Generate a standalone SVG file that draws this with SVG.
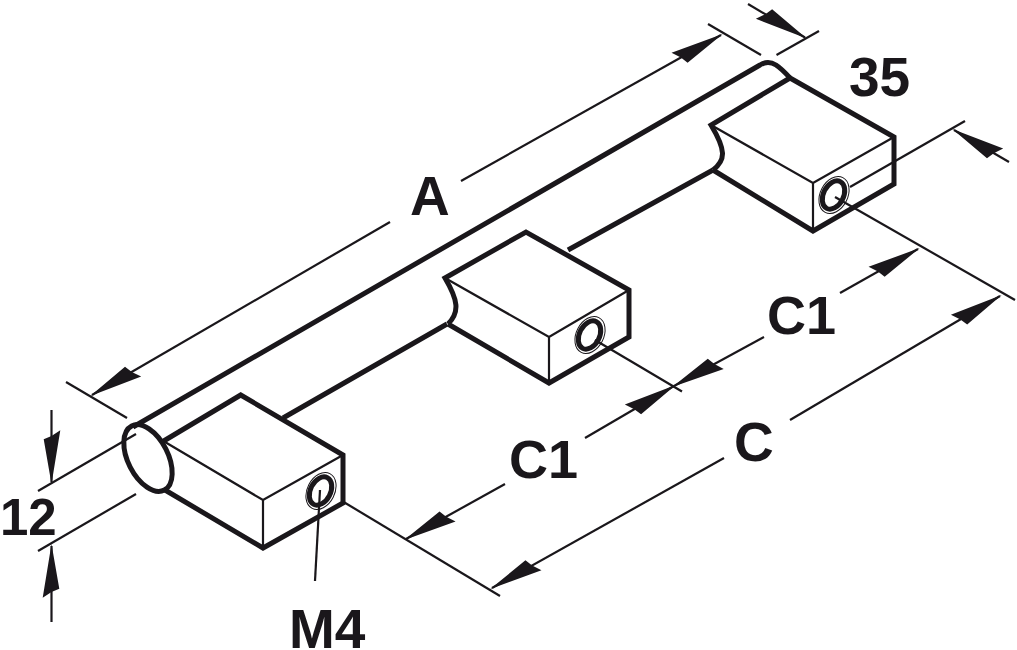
<svg xmlns="http://www.w3.org/2000/svg" width="1017" height="650" viewBox="0 0 1017 650">
<style>
.thick{fill:none;stroke:#1a171b;stroke-width:5;stroke-linejoin:miter}
.thin{fill:none;stroke:#1a171b;stroke-width:2.2}
.dim{fill:none;stroke:#1a171b;stroke-width:2.2}
.a1{marker-end:url(#ah1)}
.a2{marker-end:url(#ah2)}
.hair{fill:none;stroke:#1a171b;stroke-width:1}
.ring{fill:none;stroke:#1a171b;stroke-width:5}
text{font-family:"Liberation Sans",Arial,sans-serif;font-weight:700;font-size:55px;fill:#1a171b}
</style>
<defs>
<marker id="ah1" markerUnits="userSpaceOnUse" viewBox="-56 -12 62 24" refX="0" refY="0" markerWidth="62" markerHeight="24" orient="auto">
<path d="M2,0L-42.700,7.800L-46,0L-51.800,-8.800Z" fill="#1a171b"/>
</marker>
<marker id="ah2" markerUnits="userSpaceOnUse" viewBox="-56 -12 62 24" refX="0" refY="0" markerWidth="62" markerHeight="24" orient="auto">
<path d="M2,0L-42.700,-7.800L-46,0L-51.800,8.800Z" fill="#1a171b"/>
</marker>
</defs>
<g id="connectors">
<line class="dim a1" x1="390" y1="222" x2="92" y2="395"/>
<line class="dim a1" x1="461" y1="181" x2="721" y2="35"/>
<line class="dim" x1="66" y1="382" x2="127" y2="418"/>
<line class="dim" x1="708" y1="24" x2="761" y2="55"/>
<line class="dim a2" x1="748" y1="4" x2="805" y2="37.500"/>
<line class="dim" x1="776.500" y1="55" x2="819" y2="31"/>
<line class="dim" x1="850" y1="187" x2="965" y2="121"/>
<line class="dim a2" x1="1009" y1="162" x2="954" y2="130"/>
<line class="dim" x1="835" y1="197" x2="1015" y2="300"/>
<line class="dim a1" x1="790" y1="420" x2="1000" y2="296"/>
<line class="dim a1" x1="724" y1="458" x2="492" y2="588"/>
<line class="dim" x1="342" y1="501" x2="500" y2="596"/>
<line class="dim a1" x1="840" y1="293" x2="918" y2="249"/>
<line class="dim a1" x1="764" y1="337" x2="674" y2="386"/>
<line class="dim" x1="595" y1="340" x2="682" y2="391.500"/>
<line class="dim a1" x1="585" y1="438" x2="674" y2="386"/>
<line class="dim a1" x1="505" y1="484" x2="406" y2="539"/>
<line class="dim a1" x1="51.500" y1="410" x2="51.500" y2="482"/>
<line class="dim a1" x1="51.500" y1="622" x2="51.500" y2="546"/>
<line class="dim" x1="38" y1="491" x2="136" y2="434"/>
<line class="dim" x1="38" y1="551" x2="136" y2="494"/>
<line class="dim" x1="315" y1="581" x2="320" y2="490"/>
</g>
<g id="rod">
<path class="thick" d="M133,427L760,65Q768,60 776,65Q782,69 790,78"/>
<path class="thick" d="M283,418L447,324M568,250L713,170"/>
<ellipse class="thick" cx="148" cy="458" rx="20" ry="36" transform="rotate(-27 148 458)"/>
</g>
<g id="block-left">
<path class="thick" d="M162,442L240.700,395L343,455V503L263,548L165,490"/>
<path class="thin" d="M165,442L263,500L343,455M263,500V548"/>
<ellipse class="ring" cx="320.500" cy="491" rx="10" ry="15" transform="rotate(27 320.500 491)"/>
<ellipse class="hair" cx="321" cy="491" rx="13.700" ry="19.500" transform="rotate(27 321 491)"/>
</g>
<g id="block-middle">
<path class="thick" d="M448,324C460,312 458,300 445,278L526,232L629,290V337L549,383L448,324"/>
<path class="thin" d="M445,278L549,337L629,290M549,337V383"/>
<ellipse class="ring" cx="589.500" cy="335" rx="10" ry="15" transform="rotate(27 589.500 335)"/>
<ellipse class="hair" cx="590" cy="335" rx="13.700" ry="19.500" transform="rotate(27 590 335)"/>
</g>
<g id="block-right">
<path class="thick" d="M713,170C726,160 726,150 711,125L790,78L894,137V184L813,231L713,170"/>
<path class="thin" d="M711,125L813,183L894,137M813,183V231"/>
<ellipse class="ring" cx="833.500" cy="195" rx="10" ry="15" transform="rotate(27 833.500 195)"/>
<ellipse class="hair" cx="834" cy="195" rx="13.700" ry="19.500" transform="rotate(27 834 195)"/>
</g>
<g id="labels">
<text x="410" y="215">A</text>
<text x="849" y="96">35</text>
<text x="767" y="334" style="font-size:54px">C1</text>
<text x="509" y="478" style="font-size:54px">C1</text>
<text x="734" y="461">C</text>
<text x="0" y="535" style="font-size:51px">12</text>
<text x="289" y="648">M4</text>
</g>
</svg>
